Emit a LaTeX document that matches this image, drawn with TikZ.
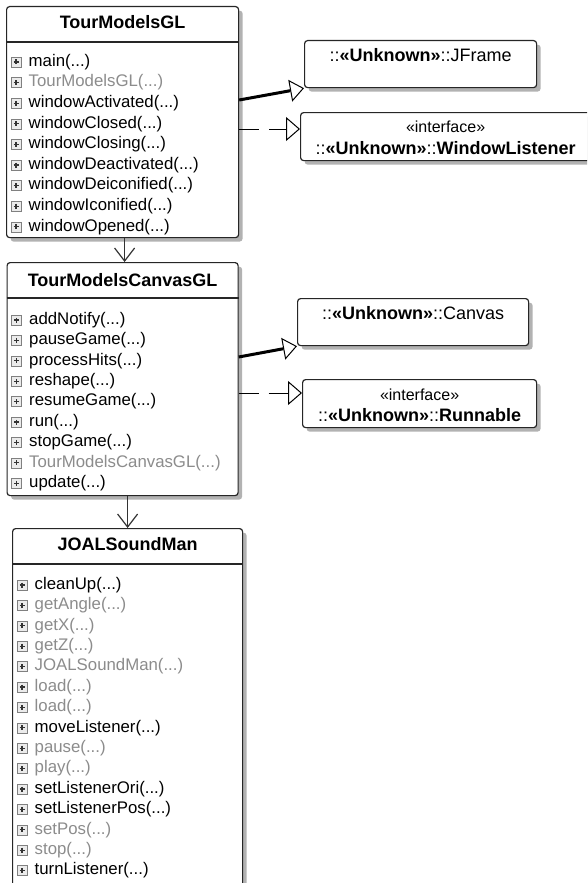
\documentclass[tikz,border=0pt]{standalone}
\usepackage{fontspec}
\setmainfont{Liberation Sans}
\usetikzlibrary{calc}
\usetikzlibrary{arrows.meta}
\usetikzlibrary{shadows}

\colorlet{pubtext}{black}
\colorlet{privtext}{black!45}
\newcommand{\unk}[1]{::\textbf{<<Unknown>>}::#1}

\begin{document}
\begin{tikzpicture}[x=1pt, y=-1pt,
  classbox/.style={draw=black!85, line width=1.2pt, rounded corners=3pt, fill=white, anchor=north west, inner sep=0pt,
    drop shadow={shadow xshift=4pt, shadow yshift=-4pt, fill=black!30, opacity=1}},
  titletext/.style={font=\fontsize{18}{20}\selectfont\bfseries, inner sep=0pt},
  labeltext/.style={font=\fontsize{18}{20}\selectfont, inner sep=0pt},
  stereotext/.style={font=\fontsize{16}{20}\selectfont, inner sep=0pt},
  membertext/.style={font=\fontsize{16.8}{20}\selectfont, anchor=west, inner sep=0pt},
  plusicon/.style={draw=black!50, fill=black!8, minimum size=10pt, inner sep=0pt, line width=.6pt,
    path picture={\draw[black!80, line width=1.3pt] ([xshift=2.5pt]path picture bounding box.west) -- ([xshift=-2.5pt]path picture bounding box.east)
      ([yshift=-2.5pt]path picture bounding box.north) -- ([yshift=2.5pt]path picture bounding box.south);}},
  sepline/.style={draw=black!85, line width=1.2pt},
  extends/.style={draw=black, line width=3pt, -{Triangle[fill=white, length=14pt, width=22pt, line width=1pt]}},
  implements/.style={draw=black, line width=1pt, dash pattern=on 20pt off 10pt, -{Triangle[fill=white, length=14pt, width=24pt, line width=1pt]}},
  assoc/.style={draw=black!80, line width=1.2pt, -{Straight Barb[length=13pt, width=20pt, line width=1.2pt]}}
]
\useasboundingbox (0,0) rectangle (587,883);
\clip (0,0) rectangle (587,883);

% class boxes
\node[classbox, minimum width=232pt, minimum height=231pt] (tmgl) at (6,6) {};
\node[titletext] (tmgl-title) at ($(tmgl.north)+(0,16.5)$) {TourModelsGL};
\draw[sepline] ($(tmgl.north west)+(0,36)$) -- ($(tmgl.north east)+(0,36)$);
\foreach \m/\c [count=\i from 0] in {main/pubtext, TourModelsGL/privtext, windowActivated/pubtext, windowClosed/pubtext,
  windowClosing/pubtext, windowDeactivated/pubtext, windowDeiconified/pubtext, windowIconified/pubtext, windowOpened/pubtext}
{
  \node[plusicon] (tmgl-p\i) at ($(tmgl.north west)+(10,56+20.6*\i)$) {};
  \node[membertext, text=\c] (tmgl-m\i) at ($(tmgl-p\i.center)+(12.5,0)$) {\m(...)};
}

\node[classbox, minimum width=231pt, minimum height=233pt] (tmcgl) at (6.5,262) {};
\node[titletext] (tmcgl-title) at ($(tmcgl.north)+(0,18)$) {TourModelsCanvasGL};
\draw[sepline] ($(tmcgl.north west)+(0,36)$) -- ($(tmcgl.north east)+(0,36)$);
\foreach \m/\c [count=\i from 0] in {addNotify/pubtext, pauseGame/pubtext, processHits/pubtext, reshape/pubtext,
  resumeGame/pubtext, run/pubtext, stopGame/pubtext, TourModelsCanvasGL/privtext, update/pubtext}
{
  \node[plusicon] (tmcgl-p\i) at ($(tmcgl.north west)+(10,58+20.4*\i)$) {};
  \node[membertext, text=\c] (tmcgl-m\i) at ($(tmcgl-p\i.center)+(12.5,0)$) {\m(...)};
}

\node[classbox, minimum width=230pt, minimum height=400pt] (jsm) at (12,528) {};
\node[titletext] (jsm-title) at ($(jsm.north)+(0,16.5)$) {JOALSoundMan};
\draw[sepline] ($(jsm.north west)+(0,36)$) -- ($(jsm.north east)+(0,36)$);
\foreach \m/\c [count=\i from 0] in {cleanUp/pubtext, getAngle/privtext, getX/privtext, getZ/privtext, JOALSoundMan/privtext,
  load/privtext, load/privtext, moveListener/pubtext, pause/privtext, play/privtext, setListenerOri/pubtext,
  setListenerPos/pubtext, setPos/privtext, stop/privtext, turnListener/pubtext}
{
  \node[plusicon] (jsm-p\i) at ($(jsm.north west)+(10,57+20.4*\i)$) {};
  \node[membertext, text=\c] (jsm-m\i) at ($(jsm-p\i.center)+(12.5,0)$) {\m(...)};
}

% super classes and interfaces
\node[classbox, minimum width=232pt, minimum height=47pt] (jframe) at (304,40) {};
\node[labeltext] (jframe-name) at ($(jframe.north)+(0,15)$) {\unk{JFrame}};

\node[classbox, minimum width=290pt, minimum height=48pt] (wlistener) at (300,112) {};
\node[stereotext] (wlistener-st) at ($(wlistener.north)+(0,15)$) {<<interface>>};
\node[labeltext] (wlistener-name) at ($(wlistener.north)+(0,36)$) {\unk{\textbf{WindowListener}}};

\node[classbox, minimum width=231pt, minimum height=47pt] (canvas) at (297,298) {};
\node[labeltext] (canvas-name) at ($(canvas.north)+(0,15.5)$) {\unk{Canvas}};

\node[classbox, minimum width=234pt, minimum height=48pt] (runnable) at (302,379) {};
\node[stereotext] (runnable-st) at ($(runnable.north)+(0,15.5)$) {<<interface>>};
\node[labeltext] (runnable-name) at ($(runnable.north)+(0,36)$) {\unk{\textbf{Runnable}}};

% connectors
\draw[extends] ($(tmgl.north east)+(0,94)$) -- (jframe.south west);
\draw[implements] ($(tmgl.north east)+(0,123)$) -- ($(wlistener.north west)+(0,17)$);
\draw[extends] ($(tmcgl.north east)+(0,95)$) -- (canvas.south west);
\draw[implements] ($(tmcgl.north east)+(0,131)$) -- ($(runnable.north west)+(0,14)$);

\draw[assoc] ([xshift=2pt]tmgl.south) -- ([xshift=2pt]tmgl.south |- tmcgl.north);
\draw[assoc] (tmcgl.south -| jsm.north) -- (jsm.north);

\end{tikzpicture}
\end{document}
